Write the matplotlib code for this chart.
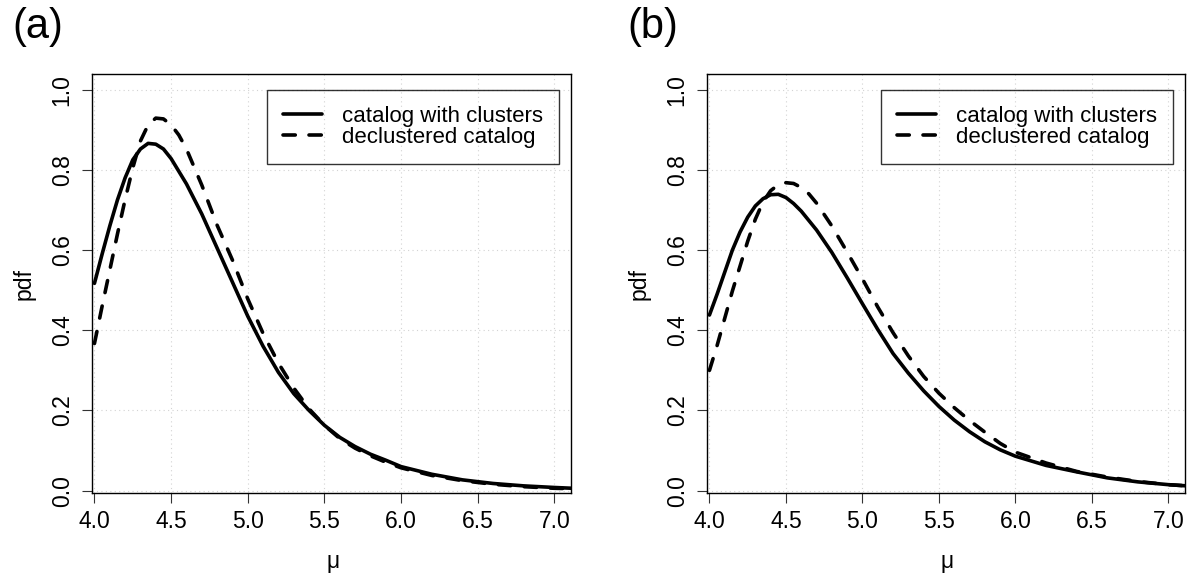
import matplotlib
matplotlib.use("Agg")
import matplotlib.pyplot as plt

plt.rcParams.update({"font.family": ["Liberation Sans", "DejaVu Sans"],
                     "font.size": 16.5})

# ---- data ----
# panel (a)
a_solid_x = [4.00, 4.05, 4.10, 4.15, 4.20, 4.25, 4.30, 4.35, 4.40, 4.45, 4.50,
             4.60, 4.70, 4.80, 4.90, 5.00, 5.10, 5.20, 5.30, 5.40, 5.50, 5.60,
             5.70, 5.80, 5.90, 6.00, 6.20, 6.40, 6.60, 6.80, 7.00, 7.12]
a_solid_y = [0.517, 0.590, 0.660, 0.725, 0.780, 0.825, 0.852, 0.866, 0.864, 0.852, 0.828,
             0.765, 0.690, 0.605, 0.520, 0.435, 0.360, 0.295, 0.242, 0.200, 0.163, 0.133,
             0.110, 0.091, 0.076, 0.060, 0.041, 0.027, 0.018, 0.012, 0.008, 0.006]
a_dash_x = [4.00, 4.05, 4.10, 4.15, 4.20, 4.25, 4.30, 4.35, 4.40, 4.45, 4.50,
            4.55, 4.60, 4.70, 4.80, 4.90, 5.00, 5.10, 5.20, 5.30, 5.40, 5.50,
            5.60, 5.70, 5.80, 5.90, 6.00, 6.20, 6.40, 6.60, 6.80, 7.00, 7.12]
a_dash_y = [0.367, 0.460, 0.550, 0.640, 0.726, 0.805, 0.872, 0.912, 0.929, 0.927, 0.912,
            0.887, 0.852, 0.762, 0.662, 0.575, 0.478, 0.392, 0.318, 0.256, 0.204, 0.163,
            0.130, 0.106, 0.087, 0.071, 0.057, 0.038, 0.025, 0.016, 0.010, 0.006, 0.005]

# panel (b)
b_solid_x = [4.00, 4.05, 4.10, 4.15, 4.20, 4.25, 4.30, 4.35, 4.40, 4.45, 4.50,
             4.55, 4.60, 4.70, 4.80, 4.90, 5.00, 5.10, 5.20, 5.30, 5.40, 5.50,
             5.60, 5.70, 5.80, 5.90, 6.00, 6.20, 6.40, 6.60, 6.80, 7.00, 7.12]
b_solid_y = [0.438, 0.490, 0.545, 0.600, 0.645, 0.682, 0.710, 0.728, 0.738, 0.739, 0.731,
             0.716, 0.697, 0.650, 0.594, 0.531, 0.466, 0.402, 0.342, 0.293, 0.249, 0.210,
             0.176, 0.147, 0.122, 0.102, 0.086, 0.063, 0.047, 0.032, 0.022, 0.015, 0.012]
b_dash_x = [4.00, 4.05, 4.10, 4.15, 4.20, 4.25, 4.30, 4.35, 4.40, 4.45, 4.50,
            4.55, 4.60, 4.65, 4.70, 4.80, 4.90, 5.00, 5.10, 5.20, 5.30, 5.40,
            5.50, 5.60, 5.70, 5.80, 5.90, 6.00, 6.20, 6.40, 6.60, 6.80, 7.00, 7.12]
b_dash_y = [0.300, 0.362, 0.430, 0.498, 0.560, 0.622, 0.677, 0.720, 0.748, 0.763, 0.768,
            0.766, 0.756, 0.740, 0.717, 0.660, 0.595, 0.528, 0.458, 0.394, 0.336, 0.285,
            0.243, 0.207, 0.175, 0.146, 0.118, 0.096, 0.069, 0.048, 0.034, 0.023, 0.015, 0.012]

xticks = [4.0, 4.5, 5.0, 5.5, 6.0, 6.5, 7.0]
yticks = [0.0, 0.2, 0.4, 0.6, 0.8, 1.0]
labels = ["catalog with clusters", "declustered catalog"]
panels = ["(a)", "(b)"]

W, H = 1193, 578
fig = plt.figure(figsize=(W / 100, H / 100), dpi=100)
ax1 = fig.add_axes([92 / W, 1 - 493.3 / H, 479 / W, 419.3 / H])
ax2 = fig.add_axes([707 / W, 1 - 493.3 / H, 478 / W, 419.3 / H])

data = [(ax1, a_solid_x, a_solid_y, a_dash_x, a_dash_y),
        (ax2, b_solid_x, b_solid_y, b_dash_x, b_dash_y)]

for ax, sx, sy, dx, dy in data:
    for v in xticks:
        ax.axvline(v, color="#d3d3d3", lw=0.8, ls=(0, (1, 3)), zorder=0)
    for v in yticks:
        ax.axhline(v, color="#d3d3d3", lw=0.8, ls=(0, (1, 3)), zorder=0)
    ax.plot(sx, sy, color="black", lw=2.6, solid_capstyle="round",
            solid_joinstyle="round", label=labels[0])
    ax.plot(dx, dy, color="black", lw=2.6, dashes=(3.4, 3.8),
            dash_capstyle="round", label=labels[1])
    ax.set_xlim(3.984, 7.108)
    ax.set_ylim(-0.0065, 1.039)
    ax.set_xticks(xticks)
    ax.set_xticklabels([f"{v:.1f}" for v in xticks])
    ax.set_yticks(yticks)
    ax.set_yticklabels([f"{v:.1f}" for v in yticks], rotation=90, va="center")
    ax.tick_params(direction="out", length=7.2, width=0.8, color="#333333",
                   labelsize=16.5)
    ax.tick_params(axis="x", pad=5)
    ax.tick_params(axis="y", pad=6)
    for s in ax.spines.values():
        s.set_linewidth(1.0)
        s.set_color("black")
    ax.set_xlabel("μ", fontsize=16.5, va="center")
    ax.set_ylabel("pdf", fontsize=16.5, va="center")
    ax.xaxis.set_label_coords(0.503, -0.163)
    ax.yaxis.set_label_coords(-0.142, 0.5)
    leg = ax.legend(loc="upper right", bbox_to_anchor=(0.975, 0.962), borderaxespad=0,
                    fontsize=16, frameon=True, fancybox=False,
                    edgecolor="black", handlelength=1.75, handletextpad=0.9,
                    labelspacing=0.0, borderpad=0.72)
    leg.get_frame().set_facecolor("none")
    leg.get_frame().set_linewidth(1.0)

fig.text(12 / W, 1 - 7 / H, panels[0], fontsize=30, va="top", ha="left")
fig.text(627 / W, 1 - 7 / H, panels[1], fontsize=30, va="top", ha="left")

fig.savefig("out.png", dpi=100)
